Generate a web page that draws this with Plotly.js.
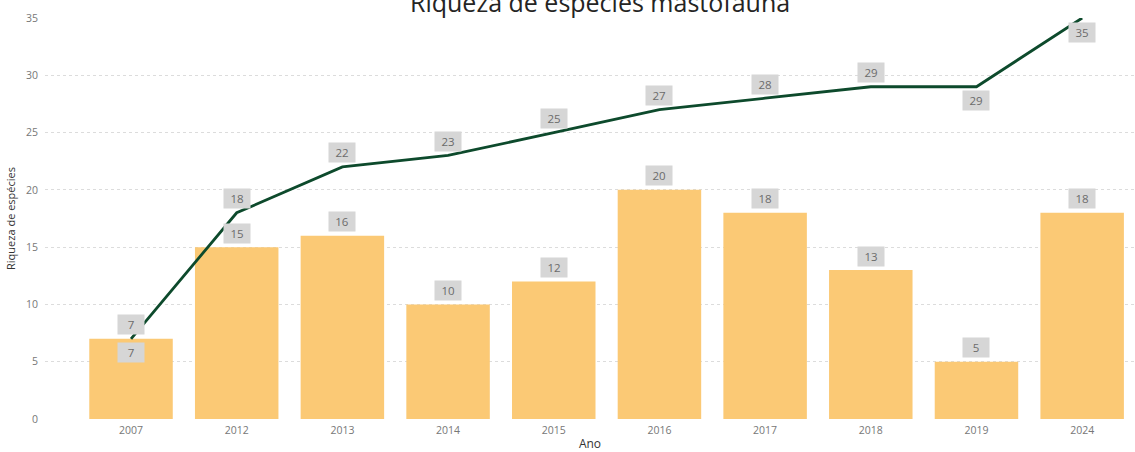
<!DOCTYPE html>
<html>
<head>
<meta charset="utf-8">
<script src="https://cdn.plot.ly/plotly-3.0.1.min.js"></script>
<style>html,body{margin:0;padding:0;background:#fff;}#chart{width:1135px;height:452px;}</style>
</head>
<body>
<div id="chart"></div>
<script>
const anos = ['2007','2012','2013','2014','2015','2016','2017','2018','2019','2024'];
const riquezaAno = [7,15,16,10,12,20,18,13,5,18];
const riquezaAcumulada = [7,18,22,23,25,27,28,29,29,35];
// label placement: 1 = above, -1 = below
const barLabelSide = [-1,1,1,1,1,1,1,1,1,1];
const lineLabelSide = [1,1,1,1,1,1,1,1,-1,-1];

const barColor = '#FBC975';
const lineColor = '#0D4A2C';

const traces = [
  {type:'bar', x:anos, y:riquezaAno, marker:{color:barColor}, hoverinfo:'x+y', name:'Espécies'},
  {type:'scatter', mode:'lines', x:anos, y:riquezaAcumulada, line:{color:lineColor, width:2.8}, name:'Acumulada'}
];

const annotations = [];
function lab(i, y, side){
  annotations.push({x:i, y:y, xref:'x', yref:'y', text:String(y), showarrow:false,
    yshift: side*14, bgcolor:'#D6D6D6', borderpad:2, width:22, height:15,
    font:{family:'Open Sans, DejaVu Sans, sans-serif', size:11.5, color:'#6b6b6b'}});
}
anos.forEach((a,i)=>{ lab(i, riquezaAno[i], barLabelSide[i]); lab(i, riquezaAcumulada[i], lineLabelSide[i]); });

annotations.push({xref:'paper', yref:'paper', x:0.509, y:1.0, yshift:16, xanchor:'center', yanchor:'middle',
  text:'Riqueza de espécies mastofauna', showarrow:false,
  font:{family:'Open Sans, DejaVu Sans, sans-serif', size:25, color:'#252423'}});

const layout = {
  width:1135, height:452,
  margin:{l:45, r:0, t:18, b:33},
  paper_bgcolor:'#fff', plot_bgcolor:'#fff',
  showlegend:false,
  bargap:0.21,
  xaxis:{type:'category', range:[-0.814, 9.5], showgrid:false, zeroline:false, showline:false, ticks:'',
    ticklabelstandoff:3,
    tickfont:{family:'Open Sans, DejaVu Sans, sans-serif', size:10.5, color:'#777'},
    title:{text:'Ano', standoff:5, font:{family:'Open Sans, DejaVu Sans, sans-serif', size:12, color:'#333'}}},
  yaxis:{range:[0,35], dtick:5, showgrid:true, gridcolor:'#dcdcdc', griddash:'dot', gridwidth:1,
    zeroline:false, showline:false, ticks:'', ticklabelstandoff:6,
    tickfont:{family:'Open Sans, DejaVu Sans, sans-serif', size:10.5, color:'#777'},
    title:{text:'Riqueza de espécies', standoff:8, font:{family:'Open Sans, DejaVu Sans, sans-serif', size:11, color:'#333'}}},
  annotations:annotations
};

Plotly.newPlot('chart', traces, layout, {displayModeBar:false, responsive:false});
</script>
</body>
</html>
